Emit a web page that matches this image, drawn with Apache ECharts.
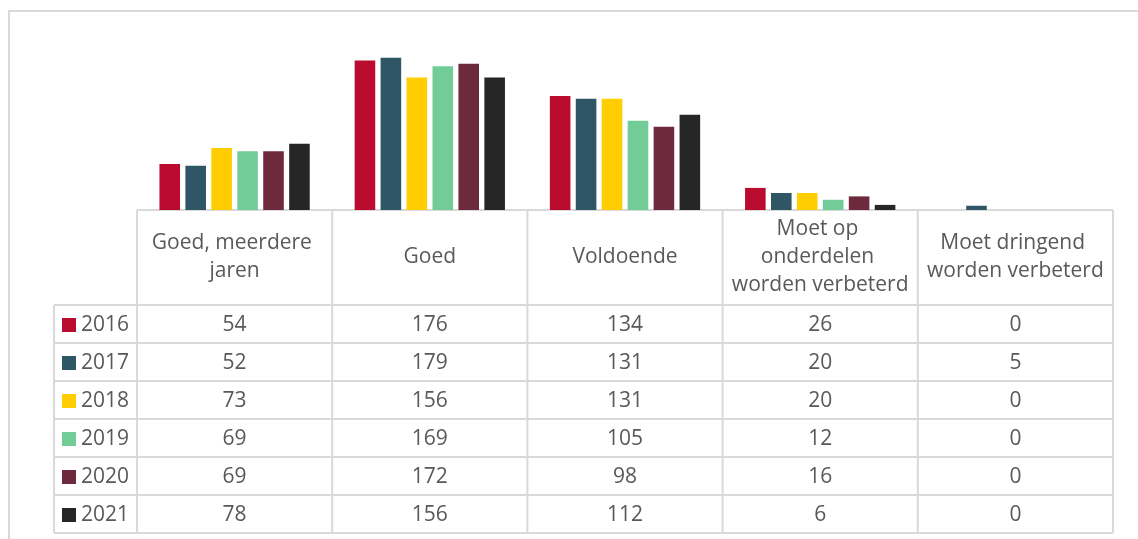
<!DOCTYPE html>
<html>
<head>
<meta charset="utf-8">
<script src="https://cdn.jsdelivr.net/npm/echarts@6/dist/echarts.min.js"></script>
<style>
  html, body { margin: 0; padding: 0; background: #fff; }
  #chart { width: 1138px; height: 539px; }
</style>
</head>
<body>
<div id="chart"></div>
<script>
// data
const categories = ['Goed, meerdere jaren', 'Goed', 'Voldoende', 'Moet op onderdelen worden verbeterd', 'Moet dringend worden verbeterd'];
const years = ['2016', '2017', '2018', '2019', '2020', '2021'];
const v2016 = [54, 176, 134, 26, 0];
const v2017 = [52, 179, 131, 20, 5];
const v2018 = [73, 156, 131, 20, 0];
const v2019 = [69, 169, 105, 12, 0];
const v2020 = [69, 172, 98, 16, 0];
const v2021 = [78, 156, 112, 6, 0];
const values = [v2016, v2017, v2018, v2019, v2020, v2021];
const colors = ['#BA0C2F', '#2F5665', '#FFCD00', '#71CC98', '#6D2A3D', '#262626'];

// table layout
const W = 1138, H = 539;
const gridLeft = 137, gridRight = 1113;
const axisY = 210;        // top of table / bottom of bars
const headerBottom = 305;
const rowH = 38;
const legendLeft = 54;
const lineColor = '#d9d9d9';
const textColor = '#595959';
const font = '"Open Sans", sans-serif';
const fontSize = 21;

const chart = echarts.init(document.getElementById('chart'), null, { renderer: 'canvas' });

const colW = (gridRight - gridLeft) / categories.length;
const tableBottom = headerBottom + rowH * years.length;

const graphics = [];
// outer frame
graphics.push({
  type: 'rect', shape: { x: 9, y: 11, width: 1300, height: 700 },
  style: { fill: null, stroke: lineColor, lineWidth: 2 }, silent: true
});
// table lines
for (let i = 0; i <= categories.length; i++) {
  const x = gridLeft + colW * i;
  graphics.push({ type: 'line', shape: { x1: x, y1: axisY, x2: x, y2: tableBottom }, style: { stroke: lineColor, lineWidth: 2 } });
}
graphics.push({ type: 'line', shape: { x1: legendLeft, y1: headerBottom, x2: legendLeft, y2: tableBottom }, style: { stroke: lineColor, lineWidth: 2 } });
graphics.push({ type: 'line', shape: { x1: gridLeft, y1: axisY, x2: gridRight, y2: axisY }, style: { stroke: lineColor, lineWidth: 2 } });
for (let r = 0; r <= years.length; r++) {
  const y = headerBottom + rowH * r;
  graphics.push({ type: 'line', shape: { x1: legendLeft, y1: y, x2: gridRight, y2: y }, style: { stroke: lineColor, lineWidth: 2 } });
}
// rows: legend key + values
years.forEach((yr, r) => {
  const cy = headerBottom + rowH * r + rowH / 2 + 1;
  graphics.push({ type: 'rect', shape: { x: 62, y: cy - 7, width: 14, height: 14 }, style: { fill: colors[r] } });
  graphics.push({
    type: 'text', x: 81, y: cy,
    style: { text: yr, fill: textColor, font: fontSize + 'px ' + font, textAlign: 'left', textVerticalAlign: 'middle' }
  });
  values[r].forEach((v, c) => {
    graphics.push({
      type: 'text', x: gridLeft + colW * (c + 0.5), y: cy,
      style: { text: String(v), fill: textColor, font: fontSize + 'px ' + font, textAlign: 'center', textVerticalAlign: 'middle' }
    });
  });
});

const option = {
  animation: false,
  color: colors,
  grid: { left: gridLeft, right: W - gridRight, top: 40, bottom: H - axisY, containLabel: false },
  xAxis: {
    type: 'category',
    data: categories,
    axisLine: { show: false },
    axisTick: { show: false },
    axisLabel: {
      interval: 0,
      margin: 47,
      width: 186,
      overflow: 'break',
      lineHeight: 28,
      fontSize: fontSize,
      fontFamily: font,
      color: textColor,
      verticalAlign: 'middle',
      align: 'center'
    }
  },
  yAxis: { type: 'value', min: 0, max: 200, show: false, splitLine: { show: false } },
  series: years.map((yr, i) => ({
    name: yr,
    type: 'bar',
    data: values[i],
    barGap: '26%',
    barCategoryGap: '23%'
  })),
  graphic: graphics
};

chart.setOption(option);
</script>
</body>
</html>
